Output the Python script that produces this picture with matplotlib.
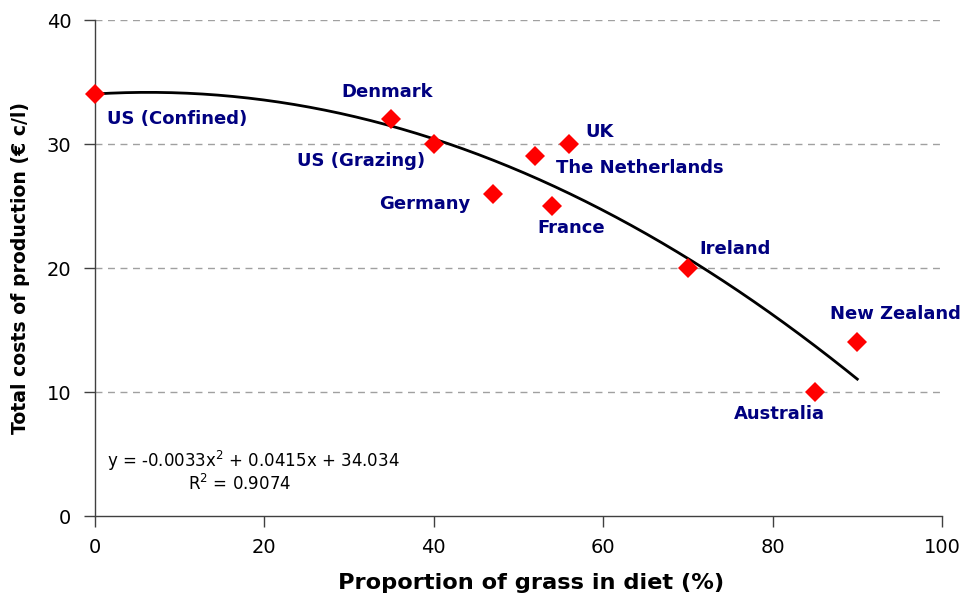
import numpy as np
import matplotlib
matplotlib.use("Agg")
import matplotlib.pyplot as plt

plt.rcParams['font.family'] = ['DejaVu Sans']

# Country data: share of grass in diet (%) and total cost of production (€ c/l)
countries = ["US (Confined)", "Denmark", "US (Grazing)", "Germany", "The Netherlands",
             "France", "UK", "Ireland", "Australia", "New Zealand"]
grass_pct = [0, 35, 40, 47, 52, 54, 56, 70, 85, 90]
cost = [34, 32, 30, 26, 29, 25, 30, 20, 10, 14]

# Label anchor positions (data units, left-aligned, vertically centred)
label_x = [1.4, 29.1, 23.9, 33.5, 54.4, 52.2, 57.9, 71.3, 75.4, 86.8]
label_y = [32.0, 34.2, 28.6, 25.2, 28.1, 23.2, 31.0, 21.5, 8.2, 16.3]

# Quadratic trend line coefficients
coef = [-0.0033, 0.0415, 34.034]
r_squared = 0.9074

x_ticks = [0, 20, 40, 60, 80, 100]
y_ticks = [0, 10, 20, 30, 40]

fig = plt.figure(figsize=(9.62, 5.98), dpi=100)
ax = fig.add_axes([95 / 962, 1 - 516 / 598, (942 - 95) / 962, (516 - 20) / 598])

ax.set_xlim(0, 100)
ax.set_ylim(0, 40)
ax.set_xticks(x_ticks)
ax.set_yticks(y_ticks)

for yv in y_ticks[1:]:
    ax.axhline(yv, color="#a0a0a0", lw=1, ls=(0, (5, 4)), zorder=0)

xs = np.linspace(min(grass_pct), max(grass_pct), 200)
ax.plot(xs, np.polyval(coef, xs), color="black", lw=2, zorder=2)

ax.plot(grass_pct, cost, ls="none", marker="D", markersize=10.5,
        color="#ff0000", markeredgewidth=0, zorder=3, clip_on=False)

for name, lx, ly in zip(countries, label_x, label_y):
    ax.text(lx, ly, name, color="#000080", fontsize=13, fontweight="bold",
            ha="left", va="center")

ax.text(18.65, 4.4, "y = -0.0033x$^{2}$ + 0.0415x + 34.034", fontsize=12,
        ha="center", va="center")
ax.text(17.1, 2.55, "R$^{2}$ = %.4f" % r_squared, fontsize=12, ha="center", va="center")

for side in ("top", "right"):
    ax.spines[side].set_visible(False)
for side in ("left", "bottom"):
    ax.spines[side].set_color("#404040")
    ax.spines[side].set_linewidth(1)

ax.tick_params(axis="both", direction="out", length=8, width=1, color="#404040",
               labelsize=14, pad=8)
ax.tick_params(axis="y", pad=9)

ax.set_xlabel("Proportion of grass in diet (%)", fontsize=16.2, fontweight="bold",
              va="center")
ax.xaxis.set_label_coords(0.515, -0.135)
ax.set_ylabel("Total costs of production (€ c/l)", fontsize=13.6, fontweight="bold",
              labelpad=12)

fig.savefig("out.png", dpi=100)
